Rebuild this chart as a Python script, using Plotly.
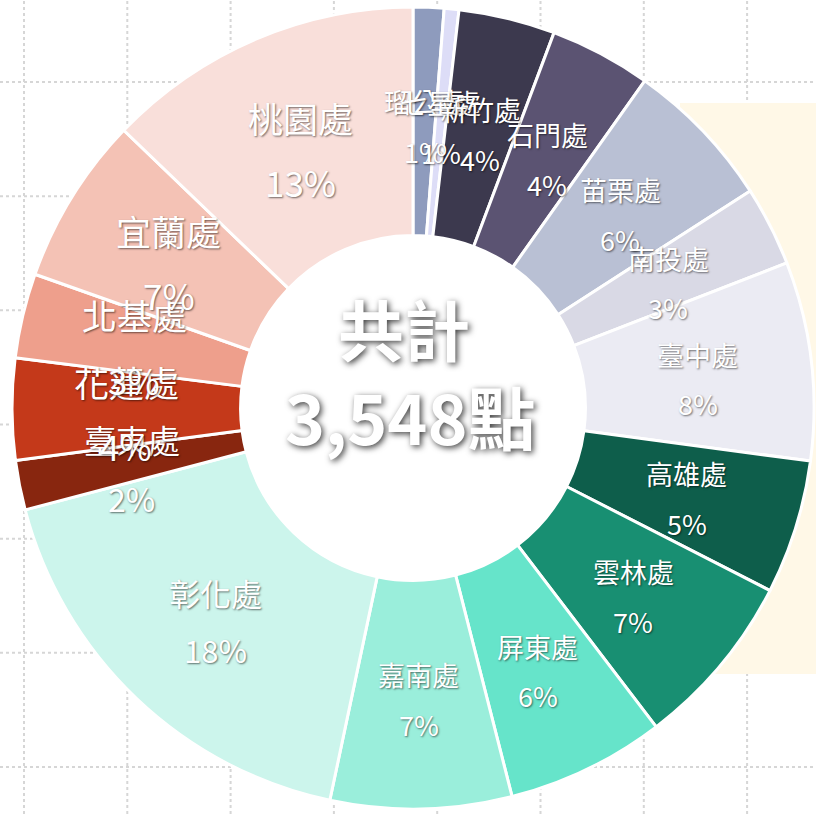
import math
import plotly.graph_objects as go

# ---------------- data ----------------
labels = ["瑠公處", "七星處", "新竹處", "石門處", "苗栗處", "南投處", "臺中處",
          "高雄處", "雲林處", "屏東處", "嘉南處", "彰化處", "臺東處", "花蓮處",
          "北基處", "宜蘭處", "桃園處"]
values = [44, 21, 138, 145, 216, 114, 284, 192, 252, 227, 259, 624, 71, 145, 121, 240, 455]
colors = ["#8E9BBD", "#DDDDF7", "#3C394E", "#5B5372", "#B9C0D4", "#D9D9E5", "#EBEBF3",
          "#0E5E4B", "#188F72", "#66E4CA", "#9AEEDB", "#CCF5EC", "#88260F", "#C4391A",
          "#EE9F8C", "#F4C2B5", "#F9DFDA"]
label_sizes = [27, 27, 27, 27, 27, 27, 27, 27, 27, 27, 27, 31, 32, 35, 35, 35, 35]
center_title = "共計"
unit = "點"

# ---------------- layout geometry ----------------
W, H = 816, 814
CX, CY, R = 413, 408, 401
HOLE = 0.43
FONT = "Noto Sans CJK TC, Noto Sans CJK JP, sans-serif"

total = sum(values)

fig = go.Figure(go.Pie(
    labels=labels, values=values, sort=False, direction="clockwise", rotation=0,
    hole=HOLE, textinfo="none", showlegend=False,
    marker=dict(colors=colors, line=dict(color="white", width=3)),
    domain=dict(x=[(CX - R) / W, (CX + R) / W], y=[1 - (CY + R) / H, 1 - (CY - R) / H]),
))

def px(x):
    return x / W

def py(y):
    return 1 - y / H

shapes = []
grid_color = "#D6D6D6"
for i in range(8):
    x = 24 + i * 103.3
    shapes.append(dict(type="line", xref="paper", yref="paper", x0=px(x), x1=px(x), y0=0, y1=1,
                       line=dict(color=grid_color, width=2, dash="dot"), layer="below"))
for j in range(7):
    y = 82 + j * 114.17
    shapes.append(dict(type="line", xref="paper", yref="paper", x0=0, x1=1, y0=py(y), y1=py(y),
                       line=dict(color=grid_color, width=2, dash="dot"), layer="below"))
# pale yellow panel on the right
shapes.append(dict(type="rect", xref="paper", yref="paper", x0=px(680), x1=1.0, y0=py(674), y1=py(103),
                   fillcolor="#FFF8E7", line=dict(width=0), layer="below"))
# white centre of the ring
rh = R * HOLE
shapes.append(dict(type="circle", xref="paper", yref="paper", x0=px(CX - rh), x1=px(CX + rh),
                   y0=py(CY + rh), y1=py(CY - rh), fillcolor="white", line=dict(width=0), layer="below"))

annotations = []
RT = (R * HOLE + R) / 2
TEXT_DY = 5
cum = 0
shadow_small = "1px 1px 2px rgba(0,0,0,0.55)"
for lab, v, fs in zip(labels, values, label_sizes):
    mid = (cum + v / 2) / total
    cum += v
    th = 2 * math.pi * mid
    x = CX + RT * math.sin(th)
    y = CY - RT * math.cos(th) + TEXT_DY
    d = 0.92 * fs
    pct = f"{round(v / total * 100)}%"
    annotations.append(dict(x=px(x), y=py(y - d), xref="paper", yref="paper", text=lab,
                            showarrow=False, xanchor="center", yanchor="middle",
                            font=dict(family=FONT, size=fs, color="white", shadow=shadow_small)))
    annotations.append(dict(x=px(x), y=py(y + d), xref="paper", yref="paper", text=pct,
                            showarrow=False, xanchor="center", yanchor="middle",
                            font=dict(family=FONT, size=fs, color="white", shadow=shadow_small)))

shadow_big = "2px 2px 6px rgba(0,0,0,0.75)"
annotations.append(dict(x=px(404), y=py(327), xref="paper", yref="paper", text=center_title,
                        showarrow=False, xanchor="center", yanchor="middle",
                        font=dict(family=FONT, size=66, color="white", weight="bold", shadow=shadow_big)))
annotations.append(dict(x=px(410), y=py(415), xref="paper", yref="paper", text=f"{total:,}{unit}",
                        showarrow=False, xanchor="center", yanchor="middle",
                        font=dict(family=FONT, size=68, color="white", weight="bold", shadow=shadow_big)))

fig.update_layout(
    width=W, height=H, margin=dict(l=0, r=0, t=0, b=0),
    paper_bgcolor="white", plot_bgcolor="white",
    shapes=shapes, annotations=annotations,
)

fig.write_html("out.html", config={"displayModeBar": False},
               post_script="document.body.style.margin='0';document.body.style.overflow='hidden';")
